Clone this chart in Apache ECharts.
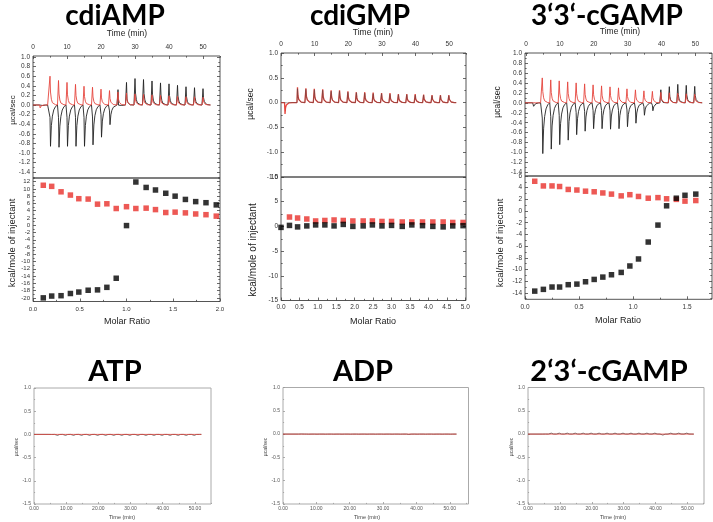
<!DOCTYPE html>
<html><head><meta charset="utf-8">
<script src="https://cdn.jsdelivr.net/npm/echarts@6/dist/echarts.min.js"></script>
<style>html,body{margin:0;padding:0;background:#fff}#c{width:713px;height:522px}</style>
</head><body><div id="c"></div><script>
// ---------------- DATA ----------------
// Injection times (min) for the raw thermograms; first entry is the small pre-injection
const injA = [2.0, 4.9, 7.4, 9.9, 12.4, 14.9, 17.4, 19.9, 22.4, 24.9, 27.4, 29.9, 32.4, 34.9, 37.4, 39.9, 42.4, 44.9, 47.4, 49.9];
const redPeakA = [-0.06, 0.60, 0.51, 0.47, 0.43, 0.39, 0.37, 0.33, 0.30, 0.27, 0.25, 0.23, 0.22, 0.21, 0.20, 0.19, 0.18, 0.17, 0.17, 0.16];
const blkPosA = [0, 0, 0, 0, 0, 0, 0, 0, 0, 0.37, 0.50, 0.55, 0.53, 0.50, 0.46, 0.44, 0.41, 0.38, 0.36, 0.34];
const blkNegA = [-0.04, -0.86, -0.88, -0.86, -0.86, -0.86, -0.83, -0.67, -0.41, -0.17, -0.10, 0, 0, 0, 0, 0, 0, 0, 0, 0];

const injB = [1.1, 4.8, 7.3, 9.8, 12.3, 14.8, 17.3, 19.8, 22.3, 24.8, 27.3, 29.8, 32.3, 34.8, 37.3, 39.8, 42.3, 44.8, 47.3, 49.8];
const redPeakB = [-0.23, 0.31, 0.29, 0.28, 0.27, 0.25, 0.25, 0.23, 0.21, 0.21, 0.20, 0.19, 0.19, 0.17, 0.17, 0.17, 0.16, 0.15, 0.15, 0.15];
const blkPosB = [0, 0.28, 0.27, 0.26, 0.25, 0.23, 0.23, 0.21, 0.20, 0.19, 0.18, 0.18, 0.17, 0.16, 0.16, 0.15, 0.15, 0.14, 0.14, 0.14];
const blkNegB = [-0.02, 0, 0, 0, 0, 0, 0, 0, 0, 0, 0, 0, 0, 0, 0, 0, 0, 0, 0, 0];

const injC = [2.0, 4.7, 7.2, 9.7, 12.2, 14.7, 17.2, 19.7, 22.2, 24.7, 27.2, 29.7, 32.2, 34.7, 37.2, 39.7, 42.2, 44.7, 47.2, 49.7];
const redPeakC = [0, 0.50, 0.46, 0.44, 0.42, 0.40, 0.38, 0.36, 0.34, 0.32, 0.30, 0.28, 0.26, 0.24, 0.23, 0.21, 0.20, 0.19, 0.18, 0.17];
const blkPosC = [0, 0, 0, 0, 0, 0, 0, 0, 0, 0, 0, 0, 0, 0, 0, 0.28, 0.33, 0.37, 0.35, 0.33];
const blkNegC = [-0.07, -1.02, -0.93, -0.84, -0.75, -0.64, -0.57, -0.52, -0.52, -0.53, -0.52, -0.48, -0.41, -0.25, -0.16, -0.06, -0.02, 0, 0, 0];

// Integrated heats (kcal/mole of injectant) vs molar ratio
const ratioA = [0.11, 0.20, 0.30, 0.40, 0.49, 0.59, 0.69, 0.79, 0.89, 1.00, 1.10, 1.21, 1.31, 1.42, 1.52, 1.63, 1.74, 1.85, 1.96];
const heatRedA = [11.0, 10.7, 9.2, 8.3, 7.3, 7.2, 5.8, 5.9, 4.6, 5.1, 4.6, 4.7, 4.3, 3.5, 3.6, 3.4, 3.1, 2.9, 2.5];
const heatBlkA = [-20.0, -19.5, -19.4, -18.8, -18.4, -17.9, -17.8, -17.1, -14.6, -0.1, 11.9, 10.4, 9.7, 8.8, 8.0, 7.1, 6.5, 6.2, 5.6];

const ratioBBlk = [0.0, 0.23, 0.45, 0.70, 0.94, 1.19, 1.44, 1.69, 1.95, 2.23, 2.48, 2.74, 3.00, 3.29, 3.55, 3.84, 4.12, 4.40, 4.66, 4.94];
const heatBlkB = [-0.2, 0.2, -0.1, 0.1, 0.3, 0.3, 0.1, 0.4, 0.0, 0.1, 0.3, 0.1, 0.2, 0.0, 0.3, 0.15, 0.0, -0.1, 0.1, 0.15];
const ratioBRed = [0.23, 0.45, 0.70, 0.94, 1.19, 1.44, 1.69, 1.95, 2.23, 2.48, 2.74, 3.00, 3.29, 3.55, 3.84, 4.12, 4.40, 4.66, 4.94];
const heatRedB = [1.9, 1.7, 1.5, 1.1, 1.2, 1.3, 1.2, 1.1, 1.1, 1.1, 1.0, 1.0, 0.9, 0.9, 0.9, 0.9, 0.9, 0.8, 0.8];

const ratioC = [0.09, 0.17, 0.25, 0.32, 0.40, 0.48, 0.56, 0.64, 0.72, 0.80, 0.89, 0.97, 1.05, 1.14, 1.23, 1.31, 1.40, 1.48, 1.58];
const heatRedC = [5.1, 4.3, 4.3, 4.2, 3.7, 3.6, 3.4, 3.3, 3.1, 2.9, 2.6, 2.8, 2.5, 2.2, 2.3, 2.1, 2.0, 1.7, 1.8];
const heatBlkC = [-13.7, -13.4, -13.0, -13.0, -12.6, -12.5, -12.1, -11.7, -11.3, -10.9, -10.5, -9.4, -8.2, -5.3, -2.4, 0.9, 2.2, 2.7, 2.9];

// Control titrations (flat)
const injCtl = [4.7, 7.2, 9.7, 12.2, 14.7, 17.2, 19.7, 22.2, 24.7, 27.2, 29.7, 32.2, 34.7, 37.2, 39.7, 42.2, 44.7, 47.2, 49.7];
const blkATP = [-0.02, -0.02, -0.02, -0.02, -0.02, -0.02, -0.02, -0.02, -0.02, -0.02, -0.02, -0.02, -0.02, -0.02, -0.02, -0.02, -0.02, -0.02, -0.02];
const blkADP = [0.03, -0.01, -0.01, -0.01, -0.01, -0.01, -0.01, -0.01, -0.01, -0.01, -0.01, -0.01, -0.01, -0.04, -0.01, -0.01, -0.01, -0.01, -0.01];
const blk23 = [0.02, 0.02, 0.02, 0.02, 0.02, 0.02, 0.02, 0.02, 0.02, 0.02, 0.02, 0.02, 0.02, 0.02, 0.02, -0.02, 0.02, 0.02, 0.02];
const zeros19 = [0, 0, 0, 0, 0, 0, 0, 0, 0, 0, 0, 0, 0, 0, 0, 0, 0, 0, 0];

// Tick labels
const timeTicks = [0, 10, 20, 30, 40, 50];
const yUpA = [-1.4, -1.2, -1.0, -0.8, -0.6, -0.4, -0.2, 0, 0.2, 0.4, 0.6, 0.8, 1.0];
const yLowA = [-20, -18, -16, -14, -12, -10, -8, -6, -4, -2, 0, 2, 4, 6, 8, 10, 12];
const xLowA = [0, 0.5, 1.0, 1.5, 2.0];
const yUpB = [-1.5, -1.0, -0.5, 0, 0.5, 1.0];
const yLowB = [-15, -10, -5, 0, 5, 10];
const xLowB = [0, 0.5, 1.0, 1.5, 2.0, 2.5, 3.0, 3.5, 4.0, 4.5, 5.0];
const yUpC = [-1.4, -1.2, -1.0, -0.8, -0.6, -0.4, -0.2, 0, 0.2, 0.4, 0.6, 0.8, 1.0];
const yLowC = [-14, -12, -10, -8, -6, -4, -2, 0, 2, 4, 6];
const xLowC = [0, 0.5, 1.0, 1.5];
const yCtl = [-1.5, -1.0, -0.5, 0, 0.5, 1.0];
const xCtl = [0, 10, 20, 30, 40, 50];

// ---------------- BUILD ----------------
// peak shape template (time offset, fraction of positive / negative peak)
const SHAPE_DT = [-0.05, 0.1, 0.25, 0.5, 0.8, 1.2, 1.7, 2.3];
const POS_FRAC = [0, 1, 0.45, 0.2, 0.08, 0.03, 0.01, 0];
const NEG_FRAC = [0, 0.3, 1, 0.5, 0.27, 0.12, 0.04, 0];

function trace(times, pos, neg, t0, t1) {
  const pts = [[t0, 0]];
  times.forEach((t, i) => {
    SHAPE_DT.forEach((d, j) => pts.push([t + d, pos[i] * POS_FRAC[j] + neg[i] * NEG_FRAC[j]]));
  });
  pts.push([t1, 0]);
  return pts;
}
const pairs = (xs, ys) => xs.map((x, i) => [x, ys[i]]);

const RED = '#e5453d', BLK = '#222';
const F = 'Liberation Sans';
const grid = [], xAxis = [], yAxis = [], series = [], graphic = [];

function minorsOf(m, min, max) {
  const s = m[1] - m[0], out = [];
  for (let v = m[0] - s / 2; v <= max + 1e-9; v += s) if (v >= min - 1e-9) out.push(+v.toFixed(6));
  return out;
}
function ax(gi, pos, min, max, vals, len, c, labels, dec, margin) {
  return {
    type: 'value', gridIndex: gi, position: pos, min: min, max: max,
    axisLine: { show: false, onZero: false }, splitLine: { show: false },
    axisTick: { show: true, inside: true, length: len, customValues: vals, lineStyle: { color: c.tickColor, width: 0.8 } },
    axisLabel: labels ? { show: true, customValues: labels, fontSize: c.fs, color: c.labelColor, margin: margin, fontFamily: F,
      formatter: v => Number(v).toFixed(dec) } : { show: false }
  };
}
function plot(c) {
  const g = { left: c.left, top: c.top, width: c.width, height: c.height, containLabel: false, outerBoundsMode: 'none' };
  const gi = grid.length;
  grid.push(Object.assign({ show: true, borderColor: c.border, borderWidth: 1, backgroundColor: 'rgba(0,0,0,0)' }, g));
  grid.push(Object.assign({ show: false }, g));
  const xi = xAxis.length, yi = yAxis.length;
  const xm = minorsOf(c.xTicks, c.xMin, c.xMax), ym = minorsOf(c.yTicks, c.yMin, c.yMax);
  xAxis.push(ax(gi, c.xPos, c.xMin, c.xMax, c.xTicks, c.tl, c, c.xTicks, c.xDec, c.xMargin));
  xAxis.push(ax(gi + 1, c.xPos, c.xMin, c.xMax, xm, c.tl * 0.55, c, null));
  yAxis.push(ax(gi, 'left', c.yMin, c.yMax, c.yTicks, c.tl, c, c.yTicks, c.yDec, c.yMargin));
  yAxis.push(ax(gi + 1, 'left', c.yMin, c.yMax, ym, c.tl * 0.55, c, null));
  if (c.mirror) {
    yAxis.push(ax(gi, 'right', c.yMin, c.yMax, c.yTicks, c.tl, c, null));
    yAxis.push(ax(gi + 1, 'right', c.yMin, c.yMax, ym, c.tl * 0.55, c, null));
  }
  return { xi: xi, yi: yi };
}
function line(p, data, color, w, z) {
  series.push({ type: 'line', xAxisIndex: p.xi, yAxisIndex: p.yi, data: data, showSymbol: false, symbol: 'none',
    lineStyle: { color: color, width: w }, silent: true, animation: false, z: z, clip: true });
}
function dots(p, data, color) {
  series.push({ type: 'scatter', xAxisIndex: p.xi, yAxisIndex: p.yi, data: data, symbol: 'rect', symbolSize: 5.5,
    itemStyle: { color: color }, silent: true, animation: false, z: 3 });
}
function txt(s, x, y, fs, o) {
  o = o || {};
  graphic.push({ type: 'text', x: x, y: y, rotation: o.rot || 0, silent: true,
    style: { text: s, fontSize: fs, fontFamily: o.ff || F, fontWeight: o.fw || 'normal', fill: o.fill || '#222',
      align: 'center', verticalAlign: 'middle' } });
}

const STY_TOP = { border: '#555', tickColor: '#444', labelColor: '#333', fs: 6.5, tl: 3, mirror: true };
const STY_CTL = { border: '#aaa', tickColor: '#999', labelColor: '#555', fs: 5, tl: 2, mirror: false };

// ---- Panel A : cdiAMP
const pAu = plot(Object.assign({}, STY_TOP, { left: 33, top: 56, width: 187, height: 122, xPos: 'top', xMin: 0, xMax: 55, xTicks: timeTicks, xDec: 0, xMargin: 5,
  yMin: -1.52, yMax: 1.02, yTicks: yUpA, yDec: 1, yMargin: 3 }));
const pAl = plot(Object.assign({}, STY_TOP, { left: 33, top: 178, width: 187, height: 123.5, xPos: 'bottom', xMin: 0, xMax: 2, xTicks: xLowA, xDec: 1, xMargin: 5,
  yMin: -21, yMax: 13, yTicks: yLowA, yDec: 0, yMargin: 3, fs: 6 }));
line(pAu, trace(injA, blkPosA, blkNegA, 0, 52), BLK, 0.9, 2);
line(pAu, trace(injA, redPeakA, zeros19.concat([0]), 0, 52), RED, 0.9, 3);
dots(pAl, pairs(ratioA, heatRedA), '#e8302a');
dots(pAl, pairs(ratioA, heatBlkA), '#000');

// ---- Panel B : cdiGMP
const pBu = plot(Object.assign({}, STY_TOP, { left: 281, top: 53, width: 185, height: 124, xPos: 'top', xMin: 0, xMax: 55, xTicks: timeTicks, xDec: 0, xMargin: 5,
  yMin: -1.5, yMax: 1.0, yTicks: yUpB, yDec: 1, yMargin: 3 }));
const pBl = plot(Object.assign({}, STY_TOP, { left: 281, top: 177, width: 185, height: 123.5, xPos: 'bottom', xMin: 0, xMax: 5.02, xTicks: xLowB, xDec: 1, xMargin: 3,
  yMin: -15, yMax: 10, yTicks: yLowB, yDec: 0, yMargin: 3 }));
line(pBu, trace(injB, redPeakB, zeros19.concat([0]), 0, 52), RED, 1.3, 2);
line(pBu, trace(injB, blkPosB, blkNegB, 0, 52), '#444', 0.45, 3);
dots(pBl, pairs(ratioBRed, heatRedB), '#e8302a');
dots(pBl, pairs(ratioBBlk, heatBlkB), '#000');

// ---- Panel C : 3'3'-cGAMP
const pCu = plot(Object.assign({}, STY_TOP, { left: 525, top: 53, width: 187, height: 123, xPos: 'top', xMin: -0.3, xMax: 54.9, xTicks: timeTicks, xDec: 0, xMargin: 5,
  yMin: -1.47, yMax: 1.0, yTicks: yUpC, yDec: 1, yMargin: 3 }));
const pCl = plot(Object.assign({}, STY_TOP, { left: 525, top: 176, width: 187, height: 123.3, xPos: 'bottom', xMin: 0, xMax: 1.73, xTicks: xLowC, xDec: 1, xMargin: 4,
  yMin: -15.1, yMax: 6, yTicks: yLowC, yDec: 0, yMargin: 3 }));
line(pCu, trace(injC, blkPosC, blkNegC, -0.3, 51.8), BLK, 0.9, 2);
line(pCu, trace(injC, redPeakC, zeros19.concat([0]), -0.3, 51.8), RED, 0.9, 3);
dots(pCl, pairs(ratioC, heatRedC), '#e8302a');
dots(pCl, pairs(ratioC, heatBlkC), '#000');

// ---- Controls
const pATP = plot(Object.assign({}, STY_CTL, { left: 34, top: 388, width: 177, height: 116, xPos: 'bottom', xMin: 0, xMax: 55, xTicks: xCtl, xDec: 2, xMargin: 2.5,
  yMin: -1.5, yMax: 1.0, yTicks: yCtl, yDec: 1, yMargin: 3 }));
const pADP = plot(Object.assign({}, STY_CTL, { left: 283, top: 387.5, width: 185.5, height: 116.5, xPos: 'bottom', xMin: 0, xMax: 55.6, xTicks: xCtl, xDec: 2, xMargin: 2.5,
  yMin: -1.5, yMax: 1.0, yTicks: yCtl, yDec: 1, yMargin: 3 }));
const p23 = plot(Object.assign({}, STY_CTL, { left: 528, top: 387.5, width: 176, height: 116.5, xPos: 'bottom', xMin: 0, xMax: 55.2, xTicks: xCtl, xDec: 2, xMargin: 2.5,
  yMin: -1.5, yMax: 1.0, yTicks: yCtl, yDec: 1, yMargin: 3 }));
line(pATP, trace(injCtl, blkATP, zeros19, 0, 52), '#444', 0.8, 2);
line(pATP, trace(injCtl, zeros19, zeros19, 0, 52), RED, 0.8, 3);
line(pADP, trace(injCtl, blkADP, zeros19, 0, 52), '#444', 0.8, 2);
line(pADP, trace(injCtl, zeros19, zeros19, 0, 52), RED, 0.8, 3);
line(p23, trace(injCtl, blk23, zeros19, 0, 52.2), '#444', 0.8, 2);
line(p23, trace(injCtl, zeros19, zeros19, 0, 52.2), RED, 0.8, 3);

// ---- Texts
const TF = { ff: 'Lato', fw: 'bold', fill: '#000' };
txt('cdiAMP', 115, 16, 28, TF);
txt('cdiGMP', 360, 16, 28, TF);
txt('3‘3‘-cGAMP', 607, 16, 28, TF);
txt('ATP', 115, 372, 29, TF);
txt('ADP', 363, 372, 29, TF);
txt('2‘3‘-cGAMP', 609, 372, 29, TF);

txt('Time (min)', 127, 34, 8.5);
txt('Time (min)', 373, 33, 8.5);
txt('Time (min)', 620, 31.5, 8.5);
txt('µcal/sec', 13, 110, 8, { rot: Math.PI / 2 });
txt('µcal/sec', 251, 104, 8.5, { rot: Math.PI / 2 });
txt('µcal/sec', 498, 102, 8.5, { rot: Math.PI / 2 });
txt('kcal/mole of injectant', 12, 243, 9.5, { rot: Math.PI / 2 });
txt('kcal/mole of injectant', 253, 250, 10, { rot: Math.PI / 2 });
txt('kcal/mole of injectant', 500, 243, 9.5, { rot: Math.PI / 2 });
txt('Molar Ratio', 127, 322, 9);
txt('Molar Ratio', 373, 322, 9);
txt('Molar Ratio', 618, 321, 9);

txt('Time (min)', 122, 517, 5.5, { fill: '#444' });
txt('Time (min)', 367, 517, 5.5, { fill: '#444' });
txt('Time (min)', 613, 517, 5.5, { fill: '#444' });
txt('µcal/sec', 17, 447, 5, { rot: Math.PI / 2, fill: '#444' });
txt('µcal/sec', 266, 447, 5, { rot: Math.PI / 2, fill: '#444' });
txt('µcal/sec', 512, 447, 5, { rot: Math.PI / 2, fill: '#444' });

const chart = echarts.init(document.getElementById('c'), null, { renderer: 'canvas', width: 713, height: 522 });
chart.setOption({ animation: false, backgroundColor: '#fff', grid: grid, xAxis: xAxis, yAxis: yAxis, series: series, graphic: graphic });
</script></body></html>
